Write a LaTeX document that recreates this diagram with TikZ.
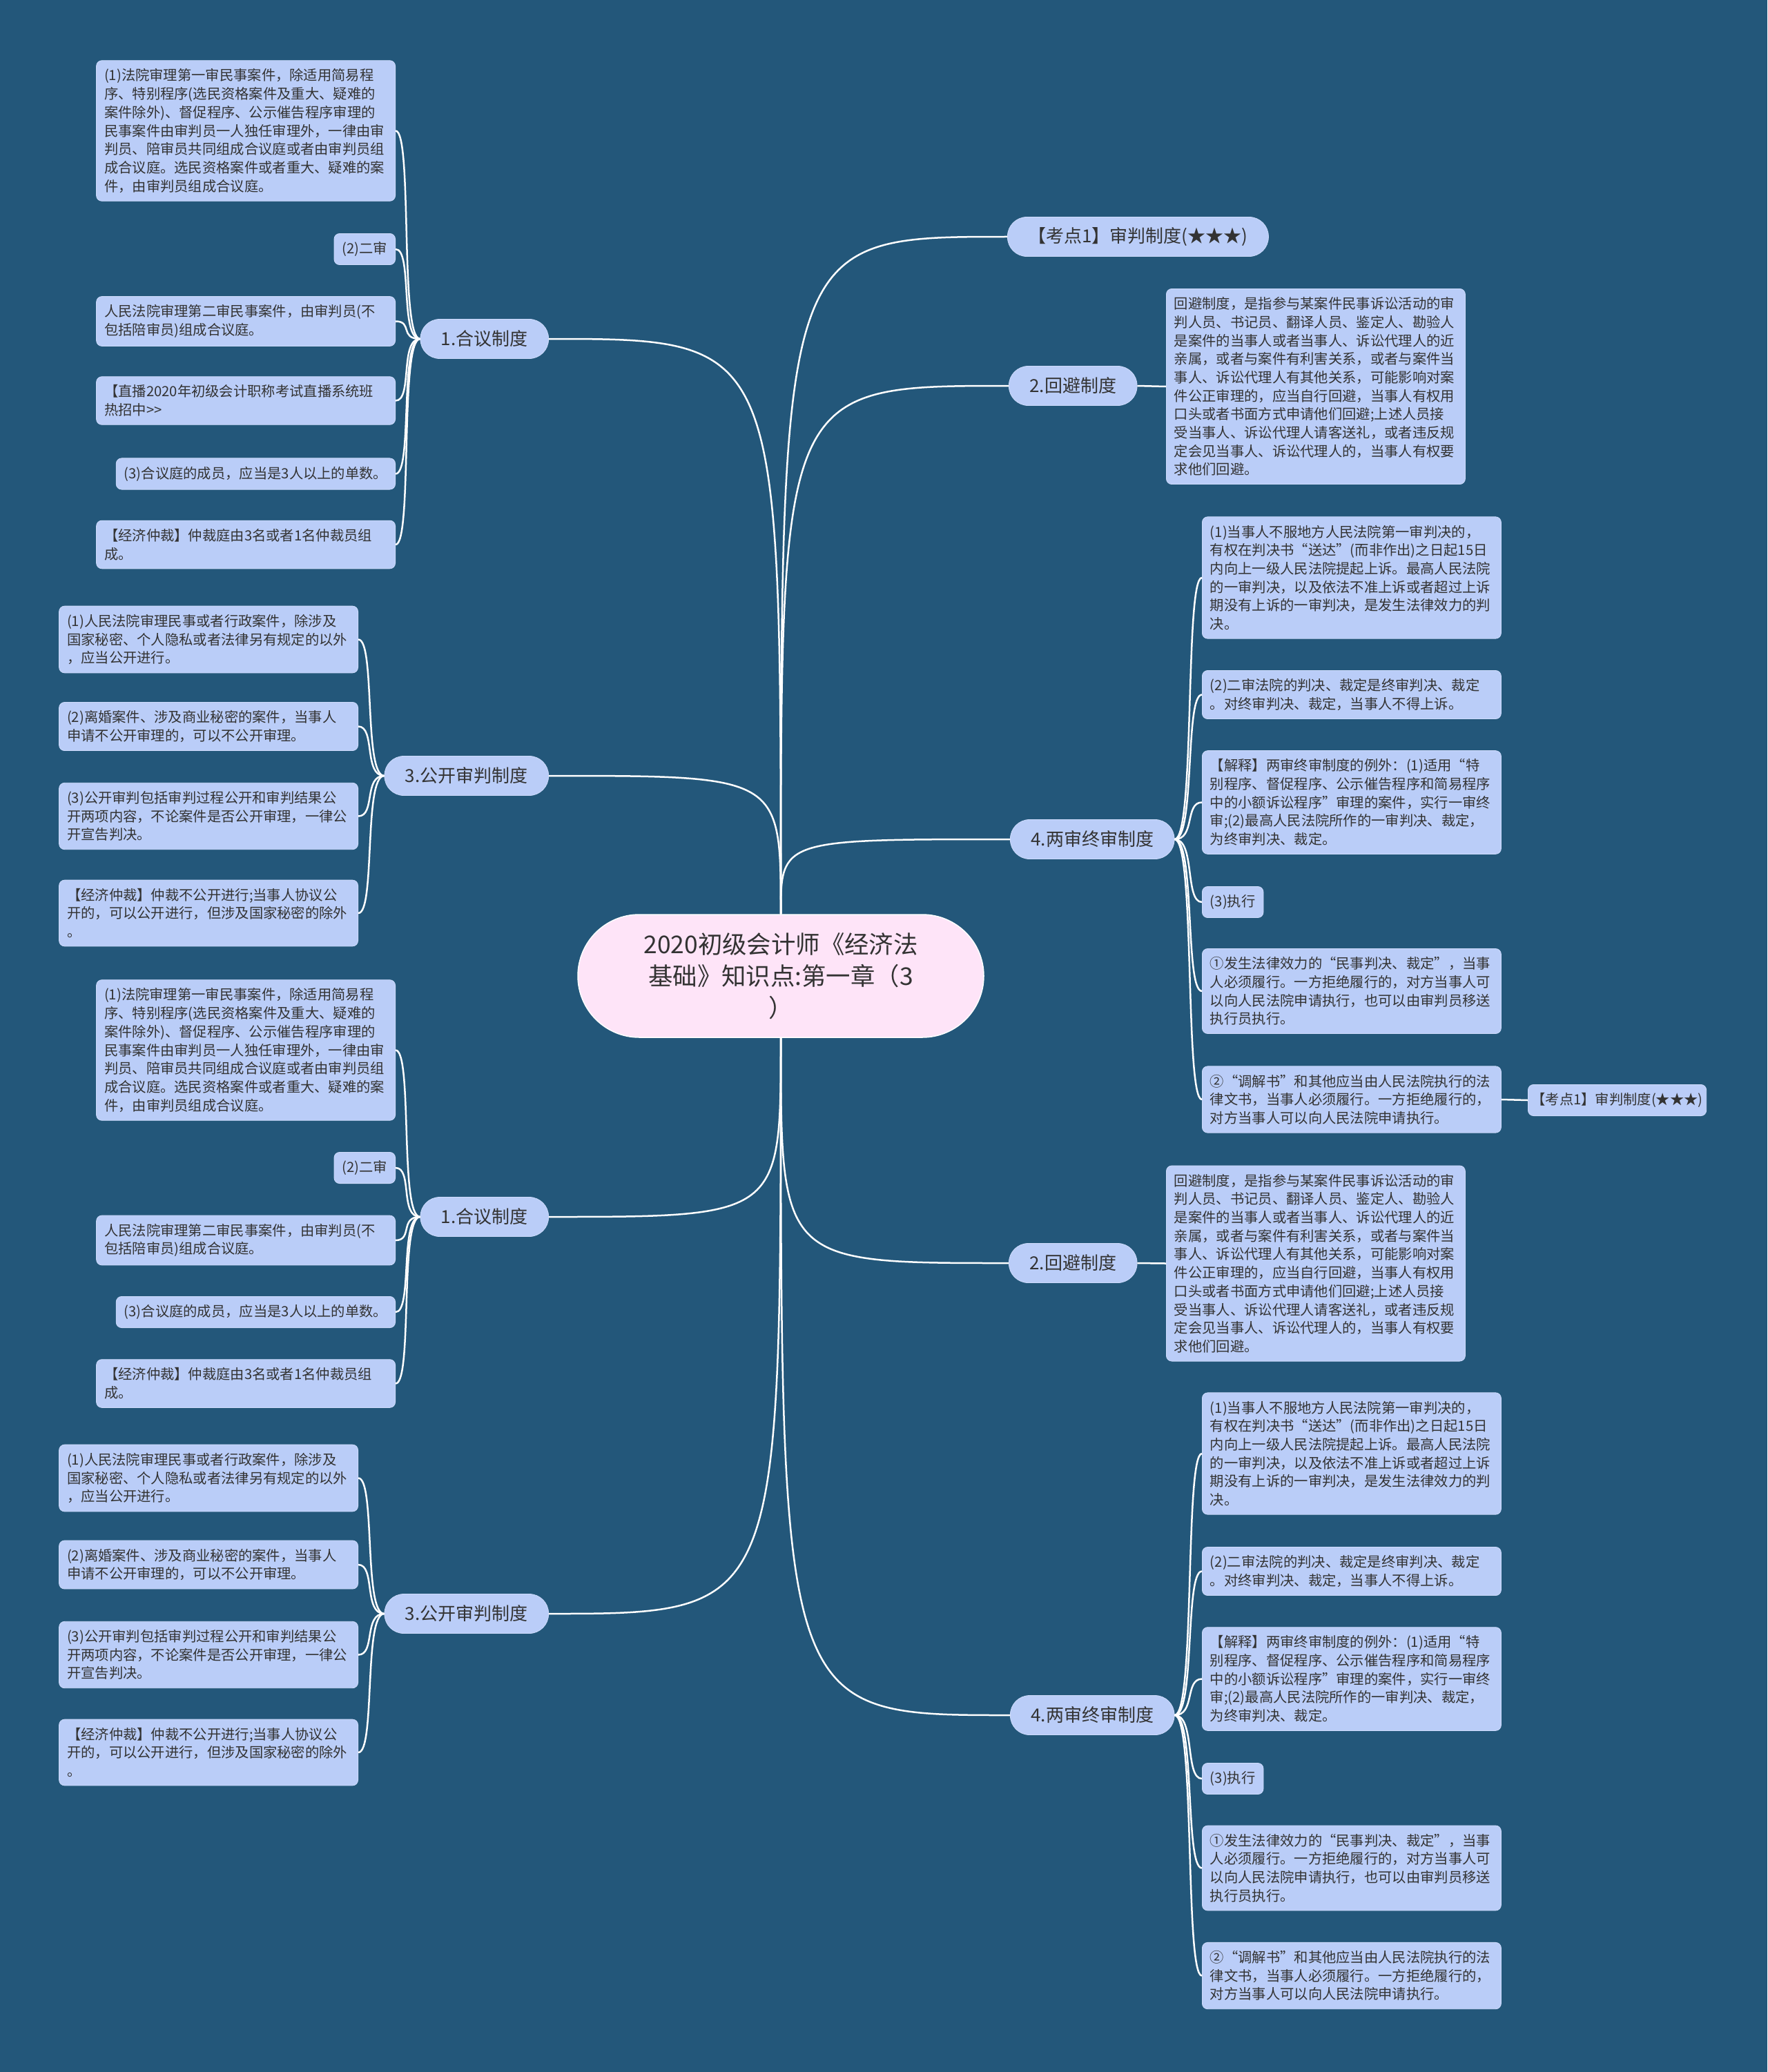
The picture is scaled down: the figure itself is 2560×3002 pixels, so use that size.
\documentclass[tikz,border=0pt]{standalone}
\usepackage{fontspec}
\newfontfamily\cjk{Noto Sans CJK SC}
\definecolor{bgblue}{HTML}{23577A}
\definecolor{leafblue}{HTML}{BACDF8}
\definecolor{leafedge}{HTML}{CCDAFA}
\definecolor{rootpink}{HTML}{FEE4F8}
\definecolor{inkgray}{HTML}{333333}
\newcommand{\leaffont}{\cjk\fontsize{20.3}{26.7}\selectfont}
\newcommand{\branchfont}{\cjk\fontsize{26}{32}\selectfont}
\newcommand{\rootfont}{\cjk\fontsize{35.4}{46}\selectfont}

\begin{document}
\begin{tikzpicture}[
    x=1pt, y=-1pt,
    leaf/.style={fill=leafblue, draw=leafedge, line width=0.8pt, rounded corners=8pt,
      font=\leaffont, text=inkgray, align=left, inner xsep=11.5pt, inner ysep=12pt},
    wide/.style={leaf, text width=410pt},
    branch/.style={fill=leafblue, draw=leafedge, line width=0.8pt, rounded corners=28pt,
      font=\branchfont, text=inkgray, inner xsep=30pt, minimum height=57pt},
    root/.style={fill=rootpink, draw=white, line width=1.5pt, rounded corners=89pt,
      font=\rootfont, text=inkgray, align=center, minimum width=588pt, minimum height=178pt},
    link/.style={draw=white, line width=2.5pt},
  ]
    \fill[bgblue] (0,0) rectangle (2560,3002);
    \useasboundingbox (0,0) rectangle (2560,3002);

    % 中心主题
    \node[root] (ctr) at (1131,1414) {2020初级会计师《经济法\\基础》知识点:第一章（3\\）};

    % 1.合议制度（上）
    \node[branch, anchor=east] (hy1) at (795,491) {1.合议制度};
    \node[wide, anchor=east] (hy1a) at (573,189.5) {(1)法院审理第一审民事案件，除适用简易程\\序、特别程序(选民资格案件及重大、疑难的\\案件除外)、督促程序、公示催告程序审理的\\民事案件由审判员一人独任审理外，一律由审\\判员、陪审员共同组成合议庭或者由审判员组\\成合议庭。选民资格案件或者重大、疑难的案\\件，由审判员组成合议庭。};
    \node[leaf, anchor=east] (hy1b) at (573,361) {(2)二审};
    \node[wide, anchor=east] (hy1c) at (573,465.5) {人民法院审理第二审民事案件，由审判员(不\\包括陪审员)组成合议庭。};
    \node[wide, anchor=east] (hy1d) at (573,580.5) {【直播2020年初级会计职称考试直播系统班\\热招中>>};
    \node[leaf, anchor=east] (hy1e) at (573,686.5) {(3)合议庭的成员，应当是3人以上的单数。};
    \node[wide, anchor=east] (hy1f) at (573,789) {【经济仲裁】仲裁庭由3名或者1名仲裁员组\\成。};
    \draw[link] (ctr.north) .. controls (ctr.north |- hy1.east) .. (hy1.east);
    \draw[link] (hy1.west) .. controls +(-30,0) and +(25,0) .. (hy1a.east);
    \draw[link] (hy1.west) .. controls +(-30,0) and +(25,0) .. (hy1b.east);
    \draw[link] (hy1.west) .. controls +(-30,0) and +(25,0) .. (hy1c.east);
    \draw[link] (hy1.west) .. controls +(-30,0) and +(25,0) .. (hy1d.east);
    \draw[link] (hy1.west) .. controls +(-30,0) and +(25,0) .. (hy1e.east);
    \draw[link] (hy1.west) .. controls +(-30,0) and +(25,0) .. (hy1f.east);

    % 3.公开审判制度（上）
    \node[branch, anchor=east] (gk1) at (795,1124) {3.公开审判制度};
    \node[wide, anchor=east] (gk1a) at (519,926.5) {(1)人民法院审理民事或者行政案件，除涉及\\国家秘密、个人隐私或者法律另有规定的以外\\，应当公开进行。};
    \node[wide, anchor=east] (gk1b) at (519,1052.5) {(2)离婚案件、涉及商业秘密的案件，当事人\\申请不公开审理的，可以不公开审理。};
    \node[wide, anchor=east] (gk1c) at (519,1182.5) {(3)公开审判包括审判过程公开和审判结果公\\开两项内容，不论案件是否公开审理，一律公\\开宣告判决。};
    \node[wide, anchor=east] (gk1d) at (519,1323) {【经济仲裁】仲裁不公开进行;当事人协议公\\开的，可以公开进行，但涉及国家秘密的除外\\。};
    \draw[link] (ctr.north) .. controls (ctr.north |- gk1.east) .. (gk1.east);
    \draw[link] (gk1.west) .. controls +(-30,0) and +(25,0) .. (gk1a.east);
    \draw[link] (gk1.west) .. controls +(-30,0) and +(25,0) .. (gk1b.east);
    \draw[link] (gk1.west) .. controls +(-30,0) and +(25,0) .. (gk1c.east);
    \draw[link] (gk1.west) .. controls +(-30,0) and +(25,0) .. (gk1d.east);

    % 1.合议制度（下）
    \node[branch, anchor=east] (hy2) at (795,1763) {1.合议制度};
    \node[wide, anchor=east] (hy2a) at (573,1521.5) {(1)法院审理第一审民事案件，除适用简易程\\序、特别程序(选民资格案件及重大、疑难的\\案件除外)、督促程序、公示催告程序审理的\\民事案件由审判员一人独任审理外，一律由审\\判员、陪审员共同组成合议庭或者由审判员组\\成合议庭。选民资格案件或者重大、疑难的案\\件，由审判员组成合议庭。};
    \node[leaf, anchor=east] (hy2b) at (573,1692) {(2)二审};
    \node[wide, anchor=east] (hy2c) at (573,1797) {人民法院审理第二审民事案件，由审判员(不\\包括陪审员)组成合议庭。};
    \node[leaf, anchor=east] (hy2d) at (573,1901) {(3)合议庭的成员，应当是3人以上的单数。};
    \node[wide, anchor=east] (hy2e) at (573,2004.5) {【经济仲裁】仲裁庭由3名或者1名仲裁员组\\成。};
    \draw[link] (ctr.south) .. controls (ctr.south |- hy2.east) .. (hy2.east);
    \draw[link] (hy2.west) .. controls +(-30,0) and +(25,0) .. (hy2a.east);
    \draw[link] (hy2.west) .. controls +(-30,0) and +(25,0) .. (hy2b.east);
    \draw[link] (hy2.west) .. controls +(-30,0) and +(25,0) .. (hy2c.east);
    \draw[link] (hy2.west) .. controls +(-30,0) and +(25,0) .. (hy2d.east);
    \draw[link] (hy2.west) .. controls +(-30,0) and +(25,0) .. (hy2e.east);

    % 3.公开审判制度（下）
    \node[branch, anchor=east] (gk2) at (795,2338) {3.公开审判制度};
    \node[wide, anchor=east] (gk2a) at (519,2141.5) {(1)人民法院审理民事或者行政案件，除涉及\\国家秘密、个人隐私或者法律另有规定的以外\\，应当公开进行。};
    \node[wide, anchor=east] (gk2b) at (519,2267) {(2)离婚案件、涉及商业秘密的案件，当事人\\申请不公开审理的，可以不公开审理。};
    \node[wide, anchor=east] (gk2c) at (519,2397.5) {(3)公开审判包括审判过程公开和审判结果公\\开两项内容，不论案件是否公开审理，一律公\\开宣告判决。};
    \node[wide, anchor=east] (gk2d) at (519,2539) {【经济仲裁】仲裁不公开进行;当事人协议公\\开的，可以公开进行，但涉及国家秘密的除外\\。};
    \draw[link] (ctr.south) .. controls (ctr.south |- gk2.east) .. (gk2.east);
    \draw[link] (gk2.west) .. controls +(-30,0) and +(25,0) .. (gk2a.east);
    \draw[link] (gk2.west) .. controls +(-30,0) and +(25,0) .. (gk2b.east);
    \draw[link] (gk2.west) .. controls +(-30,0) and +(25,0) .. (gk2c.east);
    \draw[link] (gk2.west) .. controls +(-30,0) and +(25,0) .. (gk2d.east);

    % 【考点1】
    \node[branch, anchor=west] (kd) at (1459,343) {【考点1】审判制度(★★★)};
    \draw[link] (ctr.north) .. controls (ctr.north |- kd.west) .. (kd.west);

    % 2.回避制度（上）
    \node[branch, anchor=west] (hb1) at (1461,559) {2.回避制度};
    \node[wide, anchor=west] (hb1a) at (1689,560) {回避制度，是指参与某案件民事诉讼活动的审\\判人员、书记员、翻译人员、鉴定人、勘验人\\是案件的当事人或者当事人、诉讼代理人的近\\亲属，或者与案件有利害关系，或者与案件当\\事人、诉讼代理人有其他关系，可能影响对案\\件公正审理的，应当自行回避，当事人有权用\\口头或者书面方式申请他们回避;上述人员接\\受当事人、诉讼代理人请客送礼，或者违反规\\定会见当事人、诉讼代理人的，当事人有权要\\求他们回避。};
    \draw[link] (ctr.north) .. controls (ctr.north |- hb1.west) .. (hb1.west);
    \draw[link] (hb1.east) -- (hb1a.west);

    % 4.两审终审制度（上）
    \node[branch, anchor=west] (ls1) at (1463,1216) {4.两审终审制度};
    \node[wide, anchor=west] (ls1a) at (1741,837) {(1)当事人不服地方人民法院第一审判决的，\\有权在判决书“送达”(而非作出)之日起15日\\内向上一级人民法院提起上诉。最高人民法院\\的一审判决，以及依法不准上诉或者超过上诉\\期没有上诉的一审判决，是发生法律效力的判\\决。};
    \node[wide, anchor=west] (ls1b) at (1741,1006.5) {(2)二审法院的判决、裁定是终审判决、裁定\\。对终审判决、裁定，当事人不得上诉。};
    \node[wide, anchor=west] (ls1c) at (1741,1162.5) {【解释】两审终审制度的例外：(1)适用“特\\别程序、督促程序、公示催告程序和简易程序\\中的小额诉讼程序”审理的案件，实行一审终\\审;(2)最高人民法院所作的一审判决、裁定，\\为终审判决、裁定。};
    \node[leaf, anchor=west] (ls1d) at (1741,1307) {(3)执行};
    \node[wide, anchor=west] (ls1e) at (1741,1436) {①发生法律效力的“民事判决、裁定”，当事\\人必须履行。一方拒绝履行的，对方当事人可\\以向人民法院申请执行，也可以由审判员移送\\执行员执行。};
    \node[wide, anchor=west] (ls1f) at (1741,1593) {②“调解书”和其他应当由人民法院执行的法\\律文书，当事人必须履行。一方拒绝履行的，\\对方当事人可以向人民法院申请执行。};
    \node[leaf, anchor=west, inner xsep=5pt] (ls1g) at (2213,1594) {【考点1】审判制度(★★★)};
    \draw[link] (ctr.north) .. controls (ctr.north |- ls1.west) .. (ls1.west);
    \draw[link] (ls1.east) .. controls +(30,0) and +(-25,0) .. (ls1a.west);
    \draw[link] (ls1.east) .. controls +(30,0) and +(-25,0) .. (ls1b.west);
    \draw[link] (ls1.east) .. controls +(30,0) and +(-25,0) .. (ls1c.west);
    \draw[link] (ls1.east) .. controls +(30,0) and +(-25,0) .. (ls1d.west);
    \draw[link] (ls1.east) .. controls +(30,0) and +(-25,0) .. (ls1e.west);
    \draw[link] (ls1.east) .. controls +(30,0) and +(-25,0) .. (ls1f.west);
    \draw[link] (ls1f.east) -- (ls1g.west);

    % 2.回避制度（下）
    \node[branch, anchor=west] (hb2) at (1461,1830) {2.回避制度};
    \node[wide, anchor=west] (hb2a) at (1689,1830.5) {回避制度，是指参与某案件民事诉讼活动的审\\判人员、书记员、翻译人员、鉴定人、勘验人\\是案件的当事人或者当事人、诉讼代理人的近\\亲属，或者与案件有利害关系，或者与案件当\\事人、诉讼代理人有其他关系，可能影响对案\\件公正审理的，应当自行回避，当事人有权用\\口头或者书面方式申请他们回避;上述人员接\\受当事人、诉讼代理人请客送礼，或者违反规\\定会见当事人、诉讼代理人的，当事人有权要\\求他们回避。};
    \draw[link] (ctr.south) .. controls (ctr.south |- hb2.west) .. (hb2.west);
    \draw[link] (hb2.east) -- (hb2a.west);

    % 4.两审终审制度（下）
    \node[branch, anchor=west] (ls2) at (1463,2485) {4.两审终审制度};
    \node[wide, anchor=west] (ls2a) at (1741,2106) {(1)当事人不服地方人民法院第一审判决的，\\有权在判决书“送达”(而非作出)之日起15日\\内向上一级人民法院提起上诉。最高人民法院\\的一审判决，以及依法不准上诉或者超过上诉\\期没有上诉的一审判决，是发生法律效力的判\\决。};
    \node[wide, anchor=west] (ls2b) at (1741,2276.5) {(2)二审法院的判决、裁定是终审判决、裁定\\。对终审判决、裁定，当事人不得上诉。};
    \node[wide, anchor=west] (ls2c) at (1741,2432.5) {【解释】两审终审制度的例外：(1)适用“特\\别程序、督促程序、公示催告程序和简易程序\\中的小额诉讼程序”审理的案件，实行一审终\\审;(2)最高人民法院所作的一审判决、裁定，\\为终审判决、裁定。};
    \node[leaf, anchor=west] (ls2d) at (1741,2577) {(3)执行};
    \node[wide, anchor=west] (ls2e) at (1741,2706.5) {①发生法律效力的“民事判决、裁定”，当事\\人必须履行。一方拒绝履行的，对方当事人可\\以向人民法院申请执行，也可以由审判员移送\\执行员执行。};
    \node[wide, anchor=west] (ls2f) at (1741,2862.5) {②“调解书”和其他应当由人民法院执行的法\\律文书，当事人必须履行。一方拒绝履行的，\\对方当事人可以向人民法院申请执行。};
    \draw[link] (ctr.south) .. controls (ctr.south |- ls2.west) .. (ls2.west);
    \draw[link] (ls2.east) .. controls +(30,0) and +(-25,0) .. (ls2a.west);
    \draw[link] (ls2.east) .. controls +(30,0) and +(-25,0) .. (ls2b.west);
    \draw[link] (ls2.east) .. controls +(30,0) and +(-25,0) .. (ls2c.west);
    \draw[link] (ls2.east) .. controls +(30,0) and +(-25,0) .. (ls2d.west);
    \draw[link] (ls2.east) .. controls +(30,0) and +(-25,0) .. (ls2e.west);
    \draw[link] (ls2.east) .. controls +(30,0) and +(-25,0) .. (ls2f.west);
  \end{tikzpicture}
\end{document}
